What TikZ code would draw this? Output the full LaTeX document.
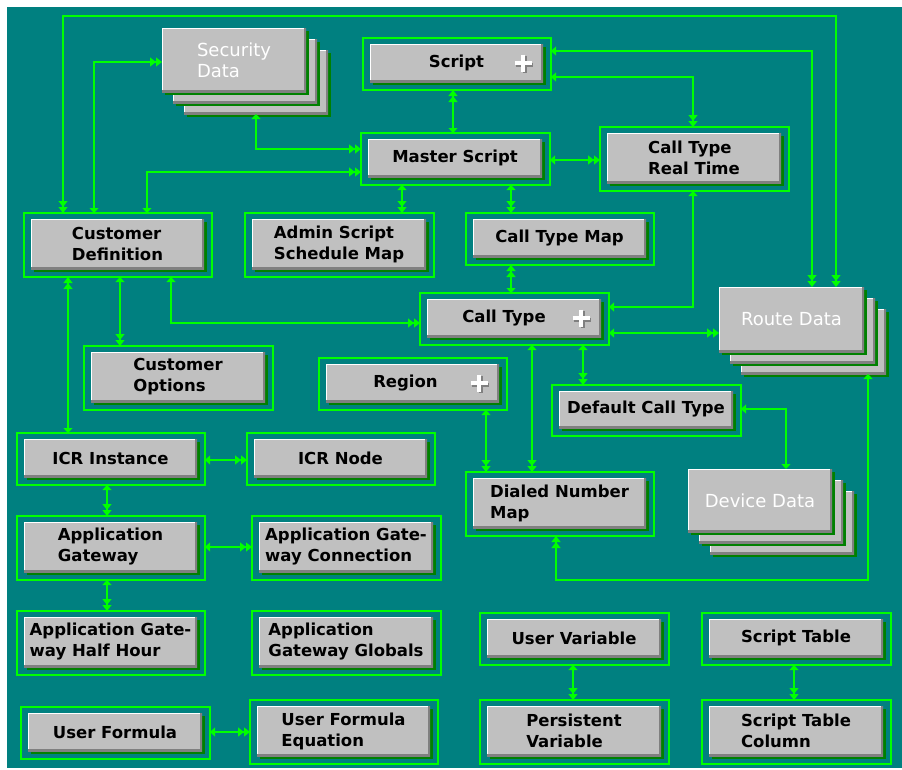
\documentclass[tikz,border=0pt]{standalone}
\usepackage{fontspec}
\setmainfont{DejaVu Sans}
\usetikzlibrary{arrows.meta,shadows,calc}

\definecolor{teal}{HTML}{008080}
\definecolor{lgreen}{HTML}{00FF00}
\definecolor{shgreen}{HTML}{008000}
\definecolor{btngray}{HTML}{C0C0C0}
\definecolor{dkgray}{HTML}{808080}

\newcommand\entfont{\fontsize{16.5}{21}\selectfont\bfseries}
\newcommand\stkfont{\fontsize{18}{21}\selectfont}

\tikzset{
  one/.tip={Triangle[width=9pt,length=5pt]},
  many/.tip={Triangle[width=9pt,length=6pt,sep=0pt] Triangle[width=9pt,length=6pt,sep=0pt]},
  conn/.style={draw=lgreen, line width=1.2pt},
  frame/.style={rectangle, draw=lgreen, line width=1.2pt, inner sep=0pt, outer sep=0pt},
  btn/.style={rectangle, fill=btngray, inner sep=0pt, outer sep=0pt,
    text=black, font=\entfont, align=left,
    drop shadow={shadow xshift=3pt, shadow yshift=-3pt, fill=shgreen, opacity=1},
    path picture={
      \draw[line width=2pt, white] (path picture bounding box.south west) |- (path picture bounding box.north east);
      \draw[line width=4pt, dkgray] (path picture bounding box.south west) -| (path picture bounding box.north east);
    }},
  stktext/.style={text=white, font=\stkfont},
  plusmark/.pic={
    \draw[dkgray, line width=4pt] (-7.5,1.5) -- (9.5,1.5) (1.5,-7.5) -- (1.5,9.5);
    \draw[white, line width=4pt] (-8.5,0) -- (8.5,0) (0,-8.5) -- (0,8.5);
  },
}

% entity: name, inner box x1 y1 x2 y2, label; the green frame surrounds the button
\newcommand\ent[6]{%
  \node[frame, minimum width={#4-#2+15}, minimum height={#5-#3+14}] (#1F) at ({(#2+#4)/2+0.5},{(#3+#5)/2+1}) {};
  \node[btn, minimum width={#4-#2}, minimum height={#5-#3}] (#1) at ({(#2+#4)/2},{(#3+#5)/2}) {#6};}

% stacked data store: three offset buttons, label on the front one
\newcommand\stk[6]{%
  \node[btn, minimum width={#4-#2}, minimum height={#5-#3}] (#1C) at ({(#2+#4)/2+22},{(#3+#5)/2+22}) {};
  \node[btn, minimum width={#4-#2}, minimum height={#5-#3}] (#1B) at ({(#2+#4)/2+11},{(#3+#5)/2+11}) {};
  \node[btn, stktext, minimum width={#4-#2}, minimum height={#5-#3}] (#1A) at ({(#2+#4)/2},{(#3+#5)/2}) {#6};}

\begin{document}
\begin{tikzpicture}[x=1pt,y=-1pt]
\useasboundingbox (0,0) rectangle (902,769);
\fill[white] (0,0) rectangle (902,769);
\fill[teal] (7,7) rectangle (902,768);

% data stores
\stk{sd}{162}{28}{306}{92}{Security\\Data\hspace{8pt}}
\stk{rd}{719}{287}{864}{352}{Route Data}
\stk{dd}{688}{469}{832}{532}{Device Data}

% entities
\ent{sc}{370}{44}{543}{82}{Script}
\ent{ms}{368}{139}{542}{177}{Master Script}
\ent{ctrt}{607}{133}{781}{183}{Call Type\\Real Time}
\ent{cd}{31}{219}{204}{269}{Customer\\Definition}
\ent{adm}{252}{219}{426}{269}{Admin Script\\Schedule Map}
\ent{ctm}{473}{219}{646}{257}{Call Type Map}
\ent{ct}{427}{299}{601}{337}{Call Type\hspace{20pt}}
\ent{co}{91}{352}{265}{402}{Customer\\Options}
\ent{rg}{326}{364}{499}{402}{Region\hspace{14pt}}
\ent{dct}{559}{391}{733}{428}{Default Call Type}
\ent{icr}{24}{439}{197}{477}{ICR Instance}
\ent{icn}{254}{439}{427}{477}{ICR Node}
\ent{dnm}{473}{478}{646}{528}{Dialed Number\\Map}
\ent{ag}{24}{522}{197}{572}{Application\\Gateway}
\ent{agc}{259}{522}{433}{572}{Application Gate-\\way Connection}
\ent{agh}{24}{617}{197}{667}{Application Gate-\\way Half Hour}
\ent{agg}{259}{617}{433}{667}{Application\\Gateway Globals}
\ent{uv}{487}{619}{661}{657}{User Variable}
\ent{st}{709}{619}{883}{657}{Script Table}
\ent{uf}{28}{713}{202}{751}{User Formula}
\ent{ufe}{257}{706}{430}{756}{User Formula\\Equation}
\ent{pv}{487}{706}{661}{756}{Persistent\\Variable}
\ent{stc}{709}{706}{883}{756}{Script Table\\Column}

% expandable markers
\pic at ([xshift=-20pt]sc.east) {plusmark};
\pic at ([xshift=-20pt]ct.east) {plusmark};
\pic at ([xshift=-20pt]rg.east) {plusmark};

% relationships
\draw[conn, many-many] (cdF.north -| 63,0) -- (63,16) -- (836,16) -- (rdA.north -| 836,0);
\draw[conn, one-many] (cdF.north -| 94,0) |- (sdA.west |- 0,62);
\draw[conn, one-many] (sdC.south -| 256,0) |- (msF.west |- 0,149);
\draw[conn, one-many] (cdF.north -| 147,0) |- (msF.west |- 0,172);
\draw[conn, one-many] (scF.east |- 0,51) -| (rdA.north -| 812,0);
\draw[conn, one-many] (scF.east |- 0,77) -| (ctrtF.north -| 693,0);
\draw[conn, many-one] (scF.south -| 453,0) -- (msF.north -| 453,0);
\draw[conn, one-many] (msF.east |- 0,160) -- (ctrtF.west |- 0,160);
\draw[conn, one-many] (msF.south -| 402,0) -- (admF.north -| 402,0);
\draw[conn, one-many] (msF.south -| 511,0) -- (ctmF.north -| 511,0);
\draw[conn, many-one] (ctmF.south -| 511,0) -- (ctF.north -| 511,0);
\draw[conn, one-one] (ctrtF.south -| 693,0) |- (ctF.east |- 0,307);
\draw[conn, one-many] (cdF.south -| 171,0) |- (ctF.west |- 0,323);
\draw[conn, one-many] (cdF.south -| 120,0) -- (coF.north -| 120,0);
\draw[conn, many-one] (cdF.south -| 68,0) -- (icrF.north -| 68,0);
\draw[conn, one-many] (ctF.east |- 0,333) -- (rdA.west |- 0,333);
\draw[conn, one-many] (ctF.south -| 583,0) -- (dctF.north -| 583,0);
\draw[conn, one-many] (ctF.south -| 532,0) -- (dnmF.north -| 532,0);
\draw[conn, one-many] (rgF.south -| 486,0) -- (dnmF.north -| 486,0);
\draw[conn, one-one] (dctF.east |- 0,409) -| (ddA.north -| 786,0);
\draw[conn, one-many] (rdC.south -| 868,0) -- (868,580) -| (dnmF.south -| 556,0);
\draw[conn, one-many] (icrF.east |- 0,460) -- (icnF.west |- 0,460);
\draw[conn, one-many] (icrF.south -| 107,0) -- (agF.north -| 107,0);
\draw[conn, one-many] (agF.east |- 0,547) -- (agcF.west |- 0,547);
\draw[conn, one-many] (agF.south -| 107,0) -- (aghF.north -| 107,0);
\draw[conn, one-many] (ufF.east |- 0,732) -- (ufeF.west |- 0,732);
\draw[conn, one-many] (uvF.south -| 573,0) -- (pvF.north -| 573,0);
\draw[conn, one-many] (stF.south -| 794,0) -- (stcF.north -| 794,0);
\end{tikzpicture}
\end{document}
